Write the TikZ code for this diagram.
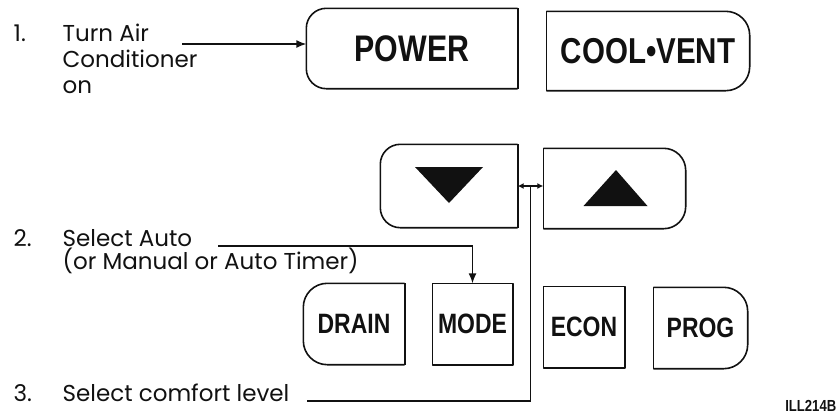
\documentclass[tikz,border=0pt]{standalone}
\usepackage{fontspec}
\usetikzlibrary{arrows.meta, positioning, calc}
\newfontfamily\labelfont{Poppins}
\newfontfamily\keyfont{Liberation Sans}[FakeStretch=0.82]
\definecolor{inkblack}{HTML}{111111}
\newcommand{\keyleft}[2][18pt]{%
  \draw[keyline, rounded corners=#1] (#2.north east) -- (#2.north west)
    -- (#2.south west) -- (#2.south east);
  \draw[keyline] (#2.south east) -- (#2.north east);}
\newcommand{\keyright}[2][18pt]{%
  \draw[keyline, rounded corners=#1] (#2.north west) -- (#2.north east)
    -- (#2.south east) -- (#2.south west);
  \draw[keyline] (#2.south west) -- (#2.north west);}

\begin{document}
\begin{tikzpicture}[x=1pt, y=-1pt, line width=1.4pt, draw=inkblack,
    keyline/.style={line width=1.6pt, line join=round, draw=inkblack},
    keybox/.style={inner sep=0pt, text=inkblack,
      font=\keyfont\bfseries\fontsize{#1}{#1}\selectfont},
    note/.style={anchor=base west, inner sep=0pt, text=inkblack,
      font=\labelfont\fontsize{23}{26}\selectfont},
    tip/.style={-{Latex[length=10pt, width=8pt]}}]
  \useasboundingbox (0,0) rectangle (839,416);

  % top keys
  \node[keybox=37, minimum width=210pt, minimum height=79pt] (power) at (412,48.5) {POWER};
  \node[keybox=36, minimum width=202pt, minimum height=78pt] (coolvent) at (648,51) {COOL•VENT};
  \keyleft[20pt]{power}
  \keyright[24pt]{coolvent}

  % arrow keys
  \node[minimum width=136pt, minimum height=82pt, inner sep=0pt] (down) at (449,186) {};
  \node[minimum width=141pt, minimum height=79pt, inner sep=0pt] (up) at (614.5,188.5) {};
  \keyleft[20pt]{down}
  \keyright[22pt]{up}
  \fill[inkblack] ($(down)+(-34,-19)$) -- ($(down)+(34,-19)$) -- ($(down)+(0,17)$) -- cycle;
  \fill[inkblack] ($(up)+(-31,17.5)$) -- ($(up)+(33,17.5)$) -- ($(up)+(1.5,-18.5)$) -- cycle;
  \draw[{Latex[length=6pt, width=6pt]}-{Latex[length=6pt, width=6pt]}]
    (down.east) -- coordinate (updown) (down.east -| up.west);

  % bottom keys
  \foreach \name/\lab/\cx/\cy/\w in {drain/DRAIN/354/324/100pt, mode/MODE/472.5/324/79pt,
                                     econ/ECON/584/327/80pt, prog/PROG/700.5/328/93pt}{%
    \node[keybox=28, minimum width=\w, minimum height=80pt] (\name) at (\cx,\cy) {\lab};}
  \keyleft[24pt]{drain}
  \draw[keyline] (mode.north west) rectangle (mode.south east);
  \draw[keyline] (econ.north west) rectangle (econ.south east);
  \keyright[24pt]{prog}

  % steps
  \foreach \cy [count=\i] in {41,246,401}{%
    \node[note] (num\i) at (13,\cy) {\i.};}
  \foreach \txt [count=\k] in {Turn Air, Conditioner, on}{%
    \node[note] (turn\k) at (62,15+26*\k) {\txt};}
  \node[note] (auto1) at (62,246) {Select Auto};
  \node[note] (auto2) at (62,269) {(or Manual or Auto Timer)};
  \node[note] (comfort) at (62,401) {Select comfort level};

  % leaders
  \coordinate (a1) at (182,44);
  \coordinate (a2) at (218,246);
  \coordinate (a3) at (307,401);
  \draw[tip] (a1) -- (a1 -| power.west);
  \draw[tip] (a2) -- (a2 -| mode.north) -- (mode.north);
  \draw (a3) -- (a3 -| updown) -- (updown);

  \node[anchor=base east, inner sep=0pt, text=inkblack,
        font=\keyfont\bfseries\fontsize{16}{16}\selectfont] (code) at (837,411) {ILL214B};
\end{tikzpicture}
\end{document}
